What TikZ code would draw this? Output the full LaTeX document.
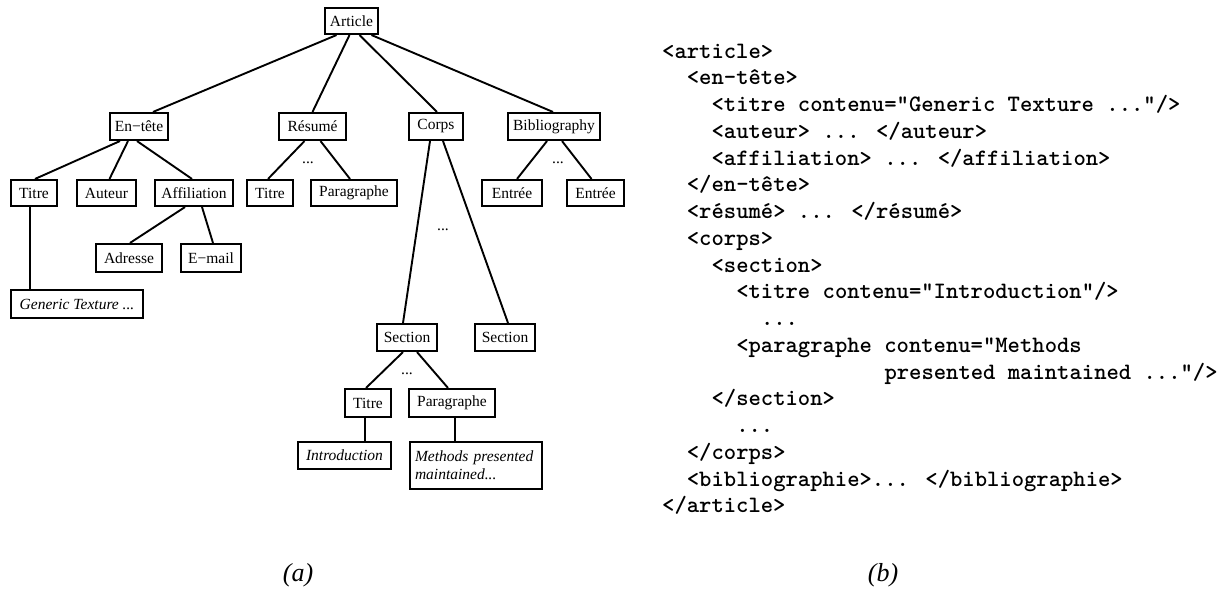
\documentclass[tikz,border=0pt]{standalone}
\usepackage{fontspec}
\setmainfont{Liberation Serif}
\begin{document}
\begin{tikzpicture}[x=1pt,y=-1pt,
  tbox/.style={draw, line width=2.1pt, inner sep=0pt, font=\fontsize{15.5}{18}\selectfont,
    minimum height=26pt},
  ibox/.style={tbox, font=\fontsize{15.5}{18}\selectfont\itshape},
  edge/.style={line width=1.9pt},
  gap/.style={inner sep=0pt, font=\fontsize{15.5}{18}\selectfont},
  code/.style={anchor=base west, inner sep=0pt, font=\fontsize{23.5}{26}\selectfont\ttfamily\bfseries},
  captext/.style={inner sep=0pt, font=\fontsize{26}{29}\selectfont\itshape}]
\useasboundingbox (0,0) rectangle (1225,589);

% ---------- tree ----------
\node[tbox, minimum width=53pt] (art) at (351.5,21) {Article};

\node[tbox, minimum width=58pt, minimum height=27pt] (ent) at (139,126.5) {En−tête};
\node[tbox, minimum width=67pt, minimum height=27pt] (res) at (312.5,126.5) {Résumé};
\node[tbox, minimum width=54pt, minimum height=27pt] (crp) at (436,126.5) {Corps};
\node[tbox, minimum width=92pt, minimum height=27pt] (bib) at (554,126.5) {Bibliography};

\node[tbox, minimum width=46pt] (ta) at (34,193) {Titre};
\node[tbox, minimum width=59pt] (aut) at (106.5,193) {Auteur};
\node[tbox, minimum width=78pt] (aff) at (194,193) {Affiliation};
\node[tbox, minimum width=46pt] (tb) at (270,193) {Titre};
\node[tbox, minimum width=86pt] (pa) at (354,193) {Paragraphe};
\node[tbox, minimum width=60pt] (ea) at (512,193) {Entrée};
\node[tbox, minimum width=57pt] (eb) at (595.5,193) {Entrée};

\node[tbox, minimum width=66pt, minimum height=28pt] (adr) at (129,258) {Adresse};
\node[tbox, minimum width=60pt, minimum height=28pt] (eml) at (211,258) {E−mail};
\node[ibox, minimum width=132pt, minimum height=28pt] (gen) at (77,304) {Generic Texture ...};

\node[tbox, minimum width=60pt, minimum height=27pt] (sa) at (407,337.5) {Section};
\node[tbox, minimum width=60pt, minimum height=27pt] (sb) at (505,337.5) {Section};

\node[tbox, minimum width=46pt, minimum height=28pt] (tc) at (368,403) {Titre};
\node[tbox, minimum width=86pt, minimum height=28pt] (pb) at (452,403) {Paragraphe};

\node[ibox, minimum width=93pt, minimum height=27pt] (intro) at (344.5,455.5) {Introduction};
\node[ibox, minimum width=132pt, minimum height=47pt, align=left, text width=122pt] (meth) at (476,465.5)
  {Methods presented\\maintained...};

% edges from the root
\draw[edge] ([xshift=-15pt]art.south) -- ([xshift=14pt]ent.north);
\draw[edge] ([xshift=-2pt]art.south) -- (res.north);
\draw[edge] ([xshift=8pt]art.south) -- ([xshift=1pt]crp.north);
\draw[edge] ([xshift=20pt]art.south) -- ([xshift=-1pt]bib.north);

% en-tete
\draw[edge] ([xshift=-19pt]ent.south) -- ([xshift=1pt]ta.north);
\draw[edge] ([xshift=-11pt]ent.south) -- ([xshift=3pt]aut.north);
\draw[edge] ([xshift=-2pt]ent.south) -- ([xshift=-2pt]aff.north);
\draw[edge] ([xshift=-4pt]ta.south) -- ([xshift=-4pt]ta.south |- gen.north);
\draw[edge] ([xshift=-9pt]aff.south) -- ([xshift=1pt]adr.north);
\draw[edge] ([xshift=8pt]aff.south) -- ([xshift=2pt]eml.north);

% resume
\draw[edge] ([xshift=-8pt]res.south) -- ([xshift=-2pt]tb.north);
\draw[edge] ([xshift=8pt]res.south) -- ([xshift=-4pt]pa.north);
\node[gap] (dres) at (308,163) {...};

% bibliography
\draw[edge] ([xshift=-7pt]bib.south) -- ([xshift=5pt]ea.north);
\draw[edge] ([xshift=8pt]bib.south) -- ([xshift=-4pt]eb.north);
\node[gap] (dbib) at (558,163) {...};

% corps
\draw[edge] ([xshift=-6pt]crp.south) -- ([xshift=-4pt]sa.north);
\draw[edge] ([xshift=7pt]crp.south) -- ([xshift=3pt]sb.north);
\node[gap] (dcrp) at (443,230) {...};

% section
\draw[edge] ([xshift=-4pt]sa.south) -- ([xshift=-2pt]tc.north);
\draw[edge] ([xshift=10pt]sa.south) -- ([xshift=-4pt]pb.north);
\node[gap] (dsec) at (407,374) {...};
\draw[edge] ([xshift=-3pt]tc.south) -- ([xshift=-3pt]tc.south |- intro.north);
\draw[edge] ([xshift=3pt]pb.south) -- ([xshift=3pt]pb.south |- meth.north);

% ---------- XML listing ----------
\def\lx{662}
\def\cw{12.35}
\def\ly{26.76}
\node[code] (l1)  at ({\lx+0*\cw},{58+0*\ly})  {<article>};
\node[code] (l2)  at ({\lx+2*\cw},{58+1*\ly})  {<en-tête>};
\node[code] (l3)  at ({\lx+4*\cw},{58+2*\ly})  {<titre contenu="Generic Texture ..."/>};
\node[code] (l4)  at ({\lx+4*\cw},{58+3*\ly})  {<auteur> ... </auteur>};
\node[code] (l5)  at ({\lx+4*\cw},{58+4*\ly})  {<affiliation> ... </affiliation>};
\node[code] (l6)  at ({\lx+2*\cw},{58+5*\ly})  {</en-tête>};
\node[code] (l7)  at ({\lx+2*\cw},{58+6*\ly})  {<résumé> ... </résumé>};
\node[code] (l8)  at ({\lx+2*\cw},{58+7*\ly})  {<corps>};
\node[code] (l9)  at ({\lx+4*\cw},{58+8*\ly})  {<section>};
\node[code] (l10) at ({\lx+6*\cw},{58+9*\ly})  {<titre contenu="Introduction"/>};
\node[code] (l11) at ({\lx+8*\cw},{58+10*\ly}) {...};
\node[code] (l12) at ({\lx+6*\cw},{58+11*\ly}) {<paragraphe contenu="Methods};
\node[code] (l13) at ({\lx+18*\cw},{58+12*\ly}) {presented maintained ..."/>};
\node[code] (l14) at ({\lx+4*\cw},{58+13*\ly}) {</section>};
\node[code] (l15) at ({\lx+6*\cw},{58+14*\ly}) {...};
\node[code] (l16) at ({\lx+2*\cw},{58+15*\ly}) {</corps>};
\node[code] (l17) at ({\lx+2*\cw},{58+16*\ly}) {<bibliographie>... </bibliographie>};
\node[code] (l18) at ({\lx+0*\cw},{58+17*\ly}) {</article>};

% ---------- captions ----------
\node[captext] (capa) at (298,575) {(a)};
\node[captext] (capb) at (883,575) {(b)};
\end{tikzpicture}
\end{document}
